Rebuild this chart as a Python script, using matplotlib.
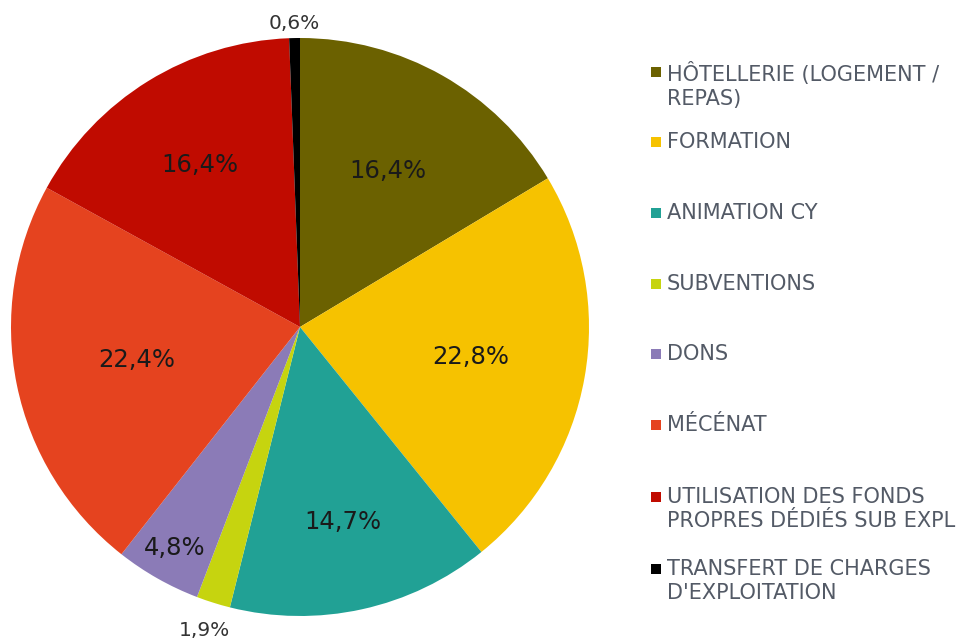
import numpy as np
import matplotlib
matplotlib.use('Agg')
import matplotlib.pyplot as plt
from matplotlib.patches import Rectangle

categories = ['HÔTELLERIE (LOGEMENT /\nREPAS)', 'FORMATION', 'ANIMATION CY',
              'SUBVENTIONS', 'DONS', 'MÉCÉNAT',
              'UTILISATION DES FONDS\nPROPRES DÉDIÉS SUB EXPL',
              'TRANSFERT DE CHARGES\nD\'EXPLOITATION']
shares = [16.4, 22.8, 14.7, 1.9, 4.8, 22.4, 16.4, 0.6]
colors = ['#6b6100', '#f6c200', '#21a195', '#c6d40f', '#8b7bb7',
          '#e5431f', '#c00b00', '#000000']
# radial position of each percentage label (fraction of radius)
label_dist = [0.62, 0.6, 0.69, 1.10, 0.88, 0.575, 0.66, 1.05]

W, H = 963, 643
fig = plt.figure(figsize=(W / 100, H / 100), dpi=100)
plt.rcParams['font.family'] = ['DejaVu Sans']

# pie centred at ~(300, 327) px with radius ~289 px
cx, cy, r = 300, 327, 289
ax = fig.add_axes([(cx - r) / W, (H - cy - r) / H, 2 * r / W, 2 * r / H])
wedges, texts, autotexts = ax.pie(
    shares, colors=colors, startangle=90, counterclock=False,
    autopct=lambda p: f'{p:.1f}%'.replace('.', ','), pctdistance=0.62,
    wedgeprops=dict(linewidth=0), textprops=dict(fontsize=17.5, color='#1a1a1a'))
ax.set_xlim(-1, 1)
ax.set_ylim(-1, 1)
ax.set_aspect('equal')

for w, t, s, d in zip(wedges, autotexts, shares, label_dist):
    ang = np.deg2rad((w.theta1 + w.theta2) / 2)
    t.set_position((d * np.cos(ang), d * np.sin(ang)))
    t.set_clip_on(False)
    if d > 1:
        # small slices: labels outside the pie
        t.set_fontsize(14.5)
        t.set_color('#333333')

# legend drawn by hand to match the spacing of the original
legend_y = [72, 142, 213, 284, 354, 425, 497, 569]
for lab, col, y in zip(categories, colors, legend_y):
    fig.add_artist(Rectangle((651 / W, 1 - (y + 5) / H), 10 / W, 10 / H,
                             transform=fig.transFigure, color=col, lw=0))
    fig.text(667 / W, 1 - (y - 10) / H, lab, fontsize=15, color='#535a66',
             va='top', ha='left', linespacing=1.22)

fig.savefig('out.png', dpi=100)
